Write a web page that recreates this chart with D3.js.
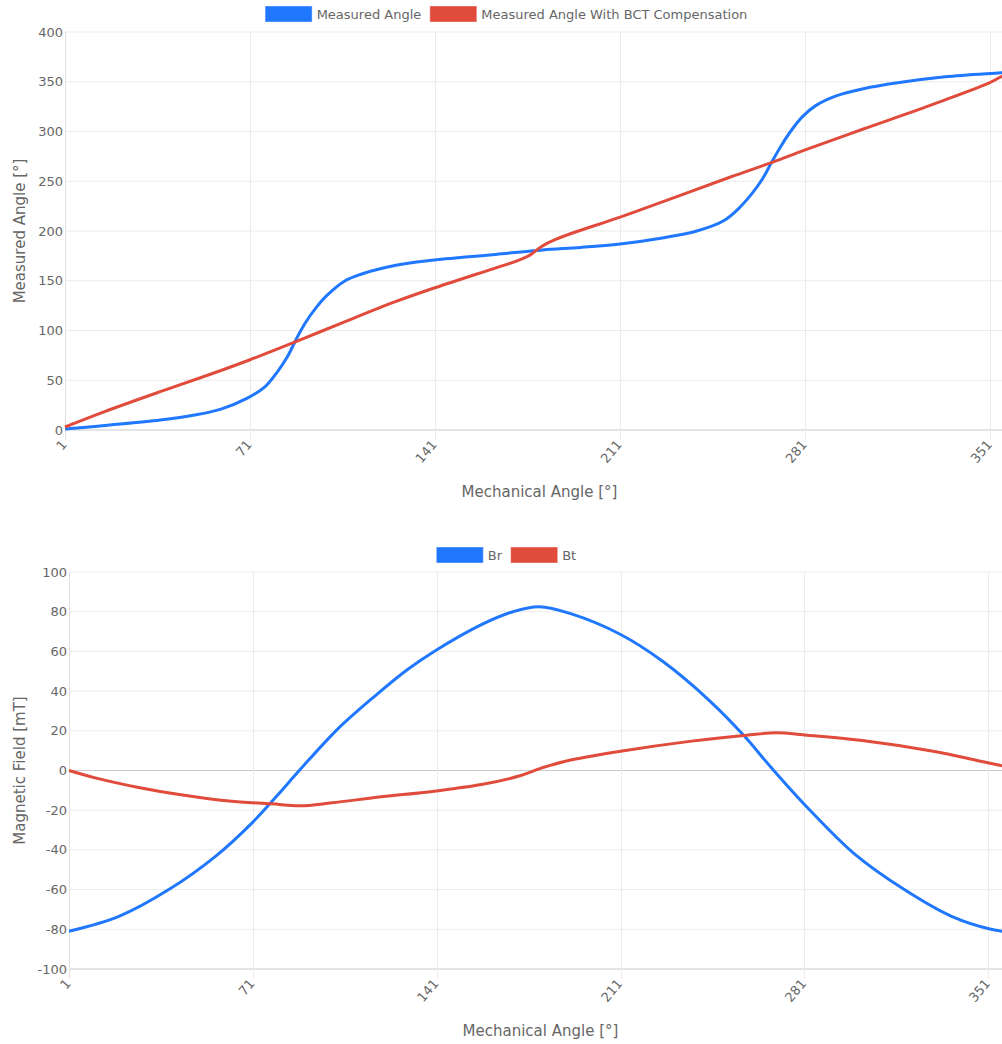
<!DOCTYPE html>
<html>
<head>
<meta charset="utf-8">
<script src="https://cdn.jsdelivr.net/npm/d3@7"></script>
<style>
  body { margin: 0; background: #fff; }
  text { font-family: "DejaVu Sans", sans-serif; fill: #666; }
</style>
</head>
<body>
<svg id="chart"></svg>
<script>
// x axis tick labels (mechanical angle, degrees)
var angleTicks = [1, 71, 141, 211, 281, 351];

// top chart ticks
var angleYTicks = [0, 50, 100, 150, 200, 250, 300, 350, 400];
// bottom chart ticks
var fieldYTicks = [-100, -80, -60, -40, -20, 0, 20, 40, 60, 80, 100];

// measured angle [mechanical angle, measured angle]
var measuredAngle = [
    [1, 1], [18, 5], [37, 10], [50, 15], [60, 21], [70, 32], [76.5, 43], [81.5, 59],
    [85, 73], [88.8, 93], [92, 108], [96, 123], [100, 135], [107, 150], [113, 156.5],
    [121, 162.5], [132, 168], [145, 172], [164, 176.5], [181.7, 181], [196, 183.5], [211, 187],
    [227, 193], [240, 200], [250, 210], [256, 223], [261, 238], [265, 253], [268.5, 270],
    [272, 286], [276, 302], [280, 315], [285, 326], [293, 336], [303, 343], [316, 349],
    [334, 355], [355, 359], [360, 360]
];

// measured angle with BCT compensation
var bctAngle = [
    [1, 3], [16, 18.5], [37, 38.5], [56, 56], [71, 70.6], [90, 90.5], [107, 109],
    [126, 129], [141, 143], [164, 163], [172, 170], [177, 176], [181, 184], [187, 192],
    [211, 214], [234, 236], [253, 254.5], [269, 269.5], [281, 281.5], [303, 302.5], [328, 326],
    [350, 348], [356, 356], [360, 359]
];

// radial field Br [mT]
var brField = [
    [1, -81], [20, -73.5], [39, -60], [57, -43], [71, -26], [80, -13], [89, 0.5],
    [103, 20.5], [117, 37], [130, 51], [140, 60], [158, 73.5], [170, 80], [180, 82.5],
    [192, 79], [211, 68.5], [227, 55], [245, 35], [258, 17.5], [268, 2], [282, -18.5],
    [300, -42], [319, -60], [337, -73.5], [352, -80], [360, -81.5]
];

// tangential field Bt [mT]
var btField = [
    [1, 0], [11, -3.7], [27, -8.4], [43, -12.1], [62, -15.4], [78, -16.8], [89, -17.8],
    [101, -16.3], [119, -13.4], [140, -10.4], [158, -7.1], [172, -2.9], [181, 1.3], [190, 4.7],
    [211, 9.7], [238, 14.8], [259, 17.8], [270, 19], [282, 17.8], [303, 15.1], [330, 9.7],
    [348, 4.7], [357, 2.2], [360, 1.5]
];

var blue = "#1f78ff",
    red = "#e04b3c";

var width = 1002,
    height = 1044;

var svg = d3.select("#chart")
    .attr("width", width)
    .attr("height", height);

//draws one chart panel
function drawChart(opts) {
    var g = svg.append("g");

    var x = d3.scaleLinear().domain([1, 360]).range([opts.left, opts.right]);
    var y = d3.scaleLinear().domain(opts.yDomain).range([opts.bottom, opts.top]);

    // horizontal grid
    g.selectAll(".hgrid")
        .data(opts.yTicks)
        .enter().append("line")
        .attr("x1", opts.left).attr("x2", opts.right)
        .attr("y1", function (d) { return y(d); })
        .attr("y2", function (d) { return y(d); })
        .style("stroke", function (d) { return (d == 0 || d == opts.yDomain[0]) ? "#c9c9c9" : "#ebebeb"; })
        .style("stroke-width", 1);

    // vertical grid + tick marks
    g.selectAll(".vgrid")
        .data(angleTicks)
        .enter().append("line")
        .attr("x1", function (d) { return Math.round(x(d)) + 0.5; })
        .attr("x2", function (d) { return Math.round(x(d)) + 0.5; })
        .attr("y1", opts.top)
        .attr("y2", opts.bottom + 10)
        .style("stroke", "#ebebeb");

    // left axis line
    g.append("line")
        .attr("x1", opts.left + 0.5).attr("x2", opts.left + 0.5)
        .attr("y1", opts.top).attr("y2", opts.bottom + 10)
        .style("stroke", "#e0e0e0");

    // y tick labels
    g.selectAll(".ylab")
        .data(opts.yTicks)
        .enter().append("text")
        .attr("x", opts.left - 2)
        .attr("y", function (d) { return y(d); })
        .attr("dy", "0.35em")
        .attr("text-anchor", "end")
        .style("font-size", "13px")
        .text(function (d) { return d; });

    // x tick labels, rotated
    g.selectAll(".xlab")
        .data(angleTicks)
        .enter().append("text")
        .attr("transform", function (d) {
            return "translate(" + (x(d) - 1) + "," + (opts.bottom + 12) + ") rotate(-50)";
        })
        .attr("text-anchor", "end")
        .attr("dy", "0.35em")
        .style("font-size", "13px")
        .text(function (d) { return d; });

    // axis titles
    g.append("text")
        .attr("x", (opts.left + opts.right) / 2)
        .attr("y", opts.bottom + 67)
        .attr("text-anchor", "middle")
        .style("font-size", "15px")
        .text("Mechanical Angle [°]");

    g.append("text")
        .attr("transform", "translate(25," + ((opts.top + opts.bottom) / 2) + ") rotate(-90)")
        .attr("text-anchor", "middle")
        .style("font-size", "15px")
        .text(opts.yTitle);

    // lines
    var line = d3.line()
        .x(function (d) { return x(d[0]); })
        .y(function (d) { return y(d[1]); })
        .curve(d3.curveCatmullRom.alpha(0.5));

    opts.series.forEach(function (s) {
        g.append("path")
            .datum(s.data)
            .attr("d", line)
            .style("fill", "none")
            .style("stroke", s.color)
            .style("stroke-width", 3)
            .style("stroke-linejoin", "round");
    });

    // legend, centred on the canvas
    var legend = g.append("g");
    var cx = 506.5, pos = 0;
    var items = opts.series.map(function (s) {
        var it = legend.append("g");
        it.append("rect")
            .attr("x", 0).attr("y", opts.legendY - 7.5)
            .attr("width", 46).attr("height", 15)
            .style("fill", s.color)
            .style("stroke", s.color)
            .style("stroke-opacity", 0.6);
        var t = it.append("text")
            .attr("x", 51).attr("y", opts.legendY)
            .attr("dy", "0.35em")
            .style("font-size", "13px")
            .text(s.name);
        var w = 51 + t.node().getComputedTextLength();
        return { g: it, w: w };
    });
    var total = d3.sum(items, function (d) { return d.w; }) + 9 * (items.length - 1);
    pos = cx - total / 2;
    items.forEach(function (d) {
        d.g.attr("transform", "translate(" + pos + ",0)");
        pos += d.w + 9;
    });
}

drawChart({
    left: 65, right: 1014, top: 32, bottom: 430,
    yDomain: [0, 400], yTicks: angleYTicks,
    yTitle: "Measured Angle [°]",
    legendY: 14,
    series: [
        { name: "Measured Angle", color: blue, data: measuredAngle },
        { name: "Measured Angle With BCT Compensation", color: red, data: bctAngle }
    ]
});

drawChart({
    left: 69, right: 1012, top: 572, bottom: 969,
    yDomain: [-100, 100], yTicks: fieldYTicks,
    yTitle: "Magnetic Field [mT]",
    legendY: 555,
    series: [
        { name: "Br", color: blue, data: brField },
        { name: "Bt", color: red, data: btField }
    ]
});
</script>
</body>
</html>
